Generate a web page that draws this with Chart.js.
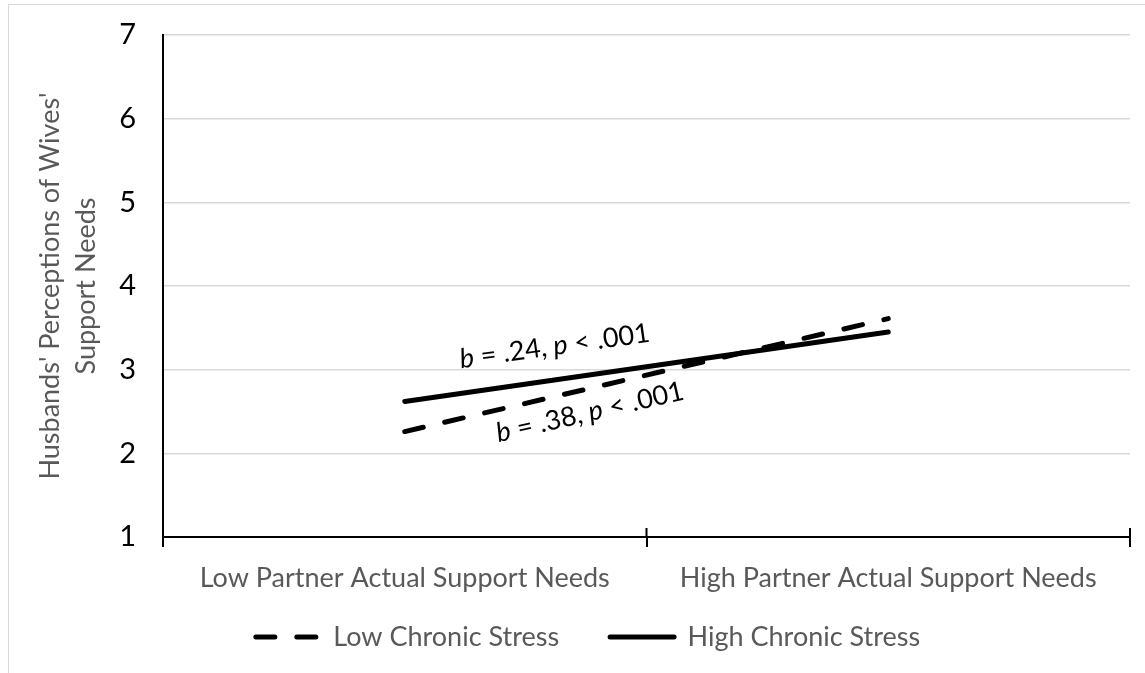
<!DOCTYPE html>
<html>
<head>
<meta charset="utf-8">
<script src="https://cdn.jsdelivr.net/npm/chart.js@4.4.1/dist/chart.umd.min.js"></script>
<style>
  html, body { margin: 0; padding: 0; background: #fff; overflow: hidden; }
  #wrap { position: relative; width: 1145px; height: 673px; }
  #frame { position: absolute; left: 8px; top: 4px; width: 1300px; height: 800px;
           border-left: 1.5px solid #d9d9d9; border-top: 1.5px solid #d9d9d9; }
  canvas { position: absolute; left: 0; top: 0; }
</style>
</head>
<body>
<div id="wrap">
  <div id="frame"></div>
  <canvas id="chart" width="1145" height="673"></canvas>
</div>
<script>
const categories = ['Low Partner Actual Support Needs', 'High Partner Actual Support Needs'];
const seriesNames = ['Low Chronic Stress', 'High Chronic Stress'];
const lowStress = [2.26, 3.61];
const highStress = [2.62, 3.45];
const yTitle = ["Husbands' Perceptions of Wives'", 'Support Needs'];
const slopeB = ['.24', '.38'];
const slopeP = ['.001', '.001'];

const FONT = 'Lato, "Open Sans", sans-serif';
const SIZE = 27;

// slope labels, short tick marks above the x axis, legend nudge
const extras = {
  id: 'extras',
  afterLayout(chart) {
    // legend sits a bit closer to the axis labels than its padding allows
    chart.legend.top -= 22.5;
    chart.legend.bottom -= 22.5;
  },
  afterDraw(chart) {
    const { ctx, scales: { x, y } } = chart;
    ctx.save();
    ctx.strokeStyle = '#000';
    ctx.lineWidth = 2;
    const n = categories.length;
    for (let i = 0; i <= n; i++) {
      const px = x.left + i * (x.right - x.left) / n;
      ctx.beginPath();
      ctx.moveTo(px, y.bottom - 9);
      ctx.lineTo(px, y.bottom);
      ctx.stroke();
    }

    const spots = [
      { at: 0.31, value: 3.28, angle: -8 },
      { at: 0.383, value: 2.49, angle: -13 }
    ];
    const normal = `${SIZE}px ${FONT}`;
    const italic = `italic ${SIZE}px ${FONT}`;
    spots.forEach((s, i) => {
      const parts = [
        ['b', italic], [` = ${slopeB[i]}, `, normal],
        ['p', italic], [` < ${slopeP[i]}`, normal]
      ];
      let total = 0;
      parts.forEach(p => { ctx.font = p[1]; p.push(ctx.measureText(p[0]).width); total += p[2]; });
      ctx.save();
      ctx.translate(x.getPixelForValue(s.at), y.getPixelForValue(s.value));
      ctx.rotate(s.angle * Math.PI / 180);
      ctx.fillStyle = '#000';
      ctx.textBaseline = 'middle';
      ctx.textAlign = 'left';
      let cx = -total / 2;
      parts.forEach(p => { ctx.font = p[1]; ctx.fillText(p[0], cx, 0); cx += p[2]; });
      ctx.restore();
    });
    ctx.restore();
  }
};

new Chart(document.getElementById('chart'), {
  type: 'line',
  data: {
    labels: categories,
    datasets: [
      {
        label: seriesNames[0],
        data: lowStress,
        borderColor: '#000',
        backgroundColor: '#000',
        borderWidth: 5,
        borderDash: [19, 22],
        borderCapStyle: 'round',
        pointRadius: 0,
        tension: 0
      },
      {
        label: seriesNames[1],
        data: highStress,
        borderColor: '#000',
        backgroundColor: '#000',
        borderWidth: 5,
        borderCapStyle: 'round',
        pointRadius: 0,
        tension: 0
      }
    ]
  },
  options: {
    responsive: false,
    animation: false,
    devicePixelRatio: 1,
    layout: { padding: { left: 46, right: 15, top: 35, bottom: -10 } },
    plugins: {
      legend: {
        position: 'bottom',
        labels: {
          usePointStyle: true,
          pointStyle: 'line',
          pointStyleWidth: 64,
          color: '#595959',
          font: { family: FONT, size: SIZE },
          padding: 51,
          generateLabels(chart) {
            const items = Chart.defaults.plugins.legend.labels.generateLabels(chart);
            items.forEach(item => {
              const ds = chart.data.datasets[item.datasetIndex];
              item.lineDash = ds.borderDash || [];
              item.lineCap = ds.borderCapStyle;
              item.lineWidth = ds.borderWidth;
              item.strokeStyle = ds.borderColor;
            });
            return items;
          }
        }
      },
      tooltip: { enabled: false }
    },
    scales: {
      x: {
        offset: true,
        grid: { offset: true, drawOnChartArea: false, color: '#000', lineWidth: 2, tickLength: 10 },
        border: { color: '#000', width: 2 },
        ticks: { color: '#595959', font: { family: FONT, size: SIZE }, padding: 15, maxRotation: 0 },
        afterFit(scale) { scale.height = 58; }
      },
      y: {
        min: 1,
        max: 7,
        ticks: { stepSize: 1, color: '#000', font: { family: FONT, size: 29 }, padding: 27 },
        grid: { color: '#d9d9d9', lineWidth: 1.5, drawTicks: false },
        border: { color: '#000', width: 2 },
        title: {
          display: true,
          text: yTitle,
          color: '#595959',
          font: { family: FONT, size: SIZE, lineHeight: 1.35 },
          padding: { top: -14, bottom: 0 }
        },
        afterFit(scale) {
          scale.width = 117;
          // tick padding should not push the plot top down
          scale.paddingTop = 0;
          scale.paddingBottom = 0;
        }
      }
    }
  },
  plugins: [extras]
});
</script>
</body>
</html>
